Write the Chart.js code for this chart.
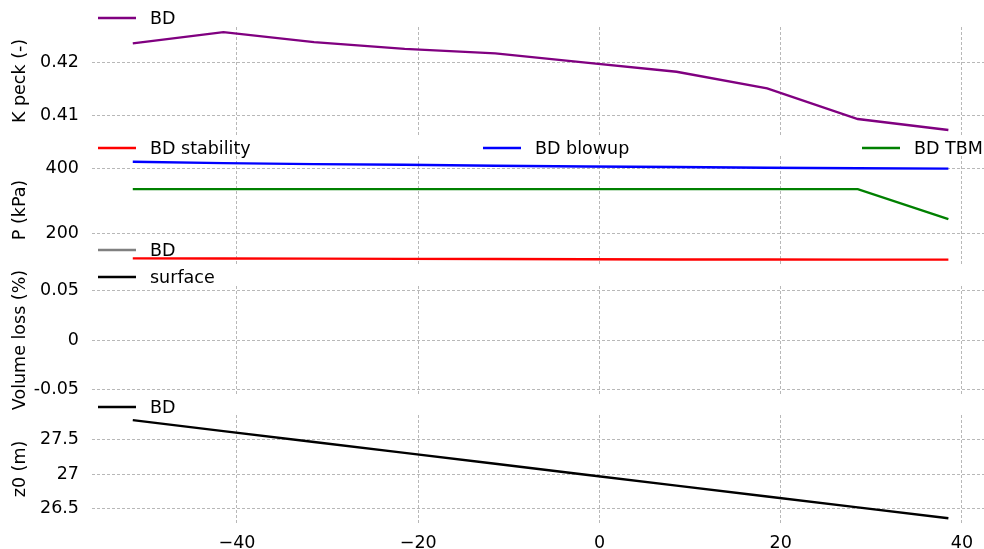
<!DOCTYPE html>
<html><head><meta charset="utf-8">
<script src="https://cdn.jsdelivr.net/npm/chart.js@4/dist/chart.umd.min.js"></script>
<style>
html,body{margin:0;padding:0;background:#fff;overflow:hidden}
#wrap{position:relative;width:984px;height:549px;background:#fff}
canvas{position:absolute;left:0;top:0}
</style></head><body><div id="wrap">
<canvas id="c1" width="984" height="549"></canvas>
<canvas id="c2" width="984" height="549"></canvas>
<canvas id="c3" width="984" height="549"></canvas>
<canvas id="c4" width="984" height="549"></canvas>
</div>
<script>
// ---- data ----
const distance = [-51.5, -41.5, -31.5, -21.5, -11.5, -1.5, 8.5, 18.5, 28.5, 38.5];
const kPeckBD = [0.42353, 0.42566, 0.42377, 0.42249, 0.42164, 0.41991, 0.41817, 0.41504, 0.40925, 0.40717];
const pStability = [122, 121.5, 121, 120.5, 120, 119, 118.5, 118.5, 118, 118];
const pBlowup = [419.4, 415, 412, 410, 407, 404.5, 403, 401, 399.5, 398];
const pTBM = [335, 335, 335, 335, 335, 335, 335, 335, 335, 243];
const volLossBD = [];
const volLossSurface = [];
const z0BD = [27.79, 27.63, 27.47, 27.31, 27.15, 26.99, 26.83, 26.67, 26.51, 26.35];
const xTickValues = [-40, -20, 0, 20, 40];
const yLabels = ['K peck (-)', 'P (kPa)', 'Volume loss (%)', 'z0 (m)'];

const FONT = {family: '"DejaVu Sans", sans-serif', size: 17.5};
const W = 984, H = 549;

function pts(ys) { return ys.map((y, i) => ({x: distance[i], y: y})); }
function fmtY(v) { return String(parseFloat(Number(v).toPrecision(6))); }
function fmtX(v) { return v < 0 ? '\u2212' + Math.abs(v) : String(v); }

const legendPlugin = {
  id: 'panelLegend',
  afterDraw(chart, args, opts) {
    const ctx = chart.ctx;
    ctx.save();
    ctx.font = '17.5px "DejaVu Sans", sans-serif';
    ctx.textBaseline = 'middle';
    ctx.textAlign = 'left';
    (opts.items || []).forEach(it => {
      const ds = chart.data.datasets[it.ds];
      ctx.strokeStyle = ds.borderColor;
      ctx.lineWidth = 2.4;
      ctx.beginPath(); ctx.moveTo(it.x, it.y); ctx.lineTo(it.x + 38, it.y); ctx.stroke();
      ctx.fillStyle = '#000';
      ctx.fillText(ds.label, it.x + 52, it.y + 1.5);
    });
    ctx.restore();
  }
};

function line(label, data, color) {
  return {label, data: pts(data), borderColor: color, backgroundColor: color,
    borderWidth: 2.4, pointRadius: 0, tension: 0, fill: false};
}

function panel(id, datasets, yMin, yMax, yStep, title, top, bottom, showX, legendItems) {
  return new Chart(document.getElementById(id), {
    type: 'line',
    data: {datasets},
    plugins: [legendPlugin],
    options: {
      responsive: false, animation: false, events: [],
      layout: {padding: {top: top, bottom: showX ? 0 : H - bottom, left: 0, right: 0}},
      plugins: {legend: {display: false}, tooltip: {enabled: false}, panelLegend: {items: legendItems}},
      scales: {
        x: {
          type: 'linear', min: -56, max: 42.43,
          afterFit: (a) => { a.height = showX ? H - bottom : 0; },
          afterBuildTicks: (a) => { a.ticks = xTickValues.map(v => ({value: v})); },
          ticks: {display: showX, callback: fmtX, font: FONT, color: '#000', padding: 10, maxRotation: 0, autoSkip: false},
          grid: {color: '#b0b0b0', lineWidth: 0.9, drawTicks: false},
          border: {display: false, dash: [3, 2]}
        },
        y: {
          min: yMin, max: yMax,
          afterFit: (a) => { a.width = 92; },
          ticks: {stepSize: yStep, includeBounds: false, callback: fmtY, font: FONT, color: '#000', padding: 13},
          grid: {color: '#b0b0b0', lineWidth: 0.9, drawTicks: false},
          border: {display: false, dash: [3, 2]},
          title: {display: true, text: title, font: FONT, color: '#000', padding: {top: 10, bottom: 0}}
        }
      }
    }
  });
}

panel('c1', [line('BD', kPeckBD, '#800080')], 0.40623, 0.42663, 0.01, yLabels[0], 27, 135, false,
  [{ds: 0, x: 98, y: 18}]);
panel('c2', [line('BD stability', pStability, '#ff0000'), line('BD blowup', pBlowup, '#0000ff'), line('BD TBM', pTBM, '#008000')],
  104.6, 437, 200, yLabels[1], 156, 264, false,
  [{ds: 0, x: 98, y: 148}, {ds: 1, x: 483, y: 148}, {ds: 2, x: 862, y: 148}]);
panel('c3', [line('BD', volLossBD, '#808080'), line('surface', volLossSurface, '#000000')],
  -0.055, 0.055, 0.05, yLabels[2], 286, 394, false,
  [{ds: 0, x: 98, y: 250}, {ds: 1, x: 98, y: 277}]);
panel('c4', [line('BD', z0BD, '#000000')], 26.281, 27.866, 0.5, yLabels[3], 415, 523, true,
  [{ds: 0, x: 98, y: 407}]);
</script>
</body></html>
